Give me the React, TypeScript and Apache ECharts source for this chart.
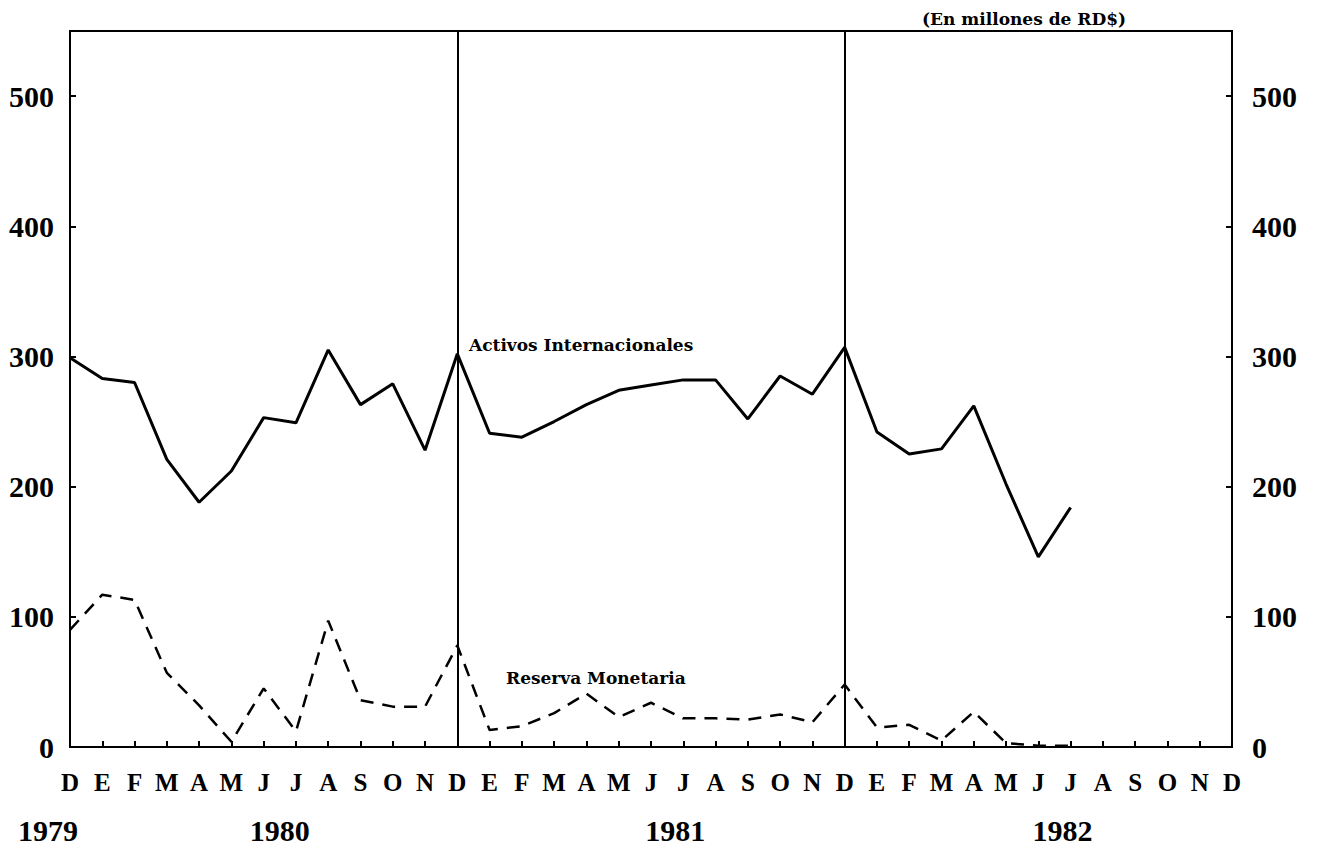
import React, { useEffect, useRef } from "react";
import * as echarts from "echarts";

const months: string[] = [
  "D",
  "E", "F", "M", "A", "M", "J", "J", "A", "S", "O", "N", "D",
  "E", "F", "M", "A", "M", "J", "J", "A", "S", "O", "N", "D",
  "E", "F", "M", "A", "M", "J", "J", "A", "S", "O", "N", "D",
];

const activosInternacionales: number[] = [
  299, 283, 280, 221, 188, 212, 253, 249, 305, 263, 279, 228, 302,
  241, 238, 250, 263, 274, 278, 282, 282, 252, 285, 271, 307,
  242, 225, 229, 262, 202, 146, 184,
];

const reservaMonetaria: number[] = [
  90, 117, 113, 57, 32, 4, 45, 12, 97, 36, 31, 31, 78,
  13, 16, 26, 41, 23, 34, 22, 22, 21, 25, 19, 48,
  15, 17, 5, 27, 3, 1, 1,
];

const dividerMonths: number[] = [12, 24];

const yearLabels: string[] = ["1979", "1980", "1981", "1982"];
const yearPositions: number[] = [0, 6.5, 18.75, 30.75];

const yTicks = { min: 0, max: 550, interval: 100 };

const FONT = "'Liberation Serif', 'DejaVu Serif', serif";
const NOTE_FONT = "'DejaVu Serif', 'Liberation Serif', serif";

export default function App() {
  const ref = useRef<HTMLDivElement>(null);

  useEffect(() => {
    if (!ref.current) return;
    const chart = echarts.init(ref.current, null, { renderer: "svg" });

    const yAxisCommon = {
      type: "value" as const,
      min: yTicks.min,
      max: yTicks.max,
      interval: yTicks.interval,
      splitLine: { show: false },
      axisLine: { show: true, lineStyle: { color: "#000", width: 2 } },
      axisTick: { show: true, inside: true, length: 6, lineStyle: { color: "#000", width: 2 } },
      axisLabel: {
        color: "#000",
        fontFamily: FONT,
        fontWeight: "bold" as const,
        fontSize: 30,
        showMaxLabel: false,
        formatter: (v: number) => (v % 100 === 0 ? String(v) : ""),
      },
    };

    chart.setOption({
      animation: false,
      backgroundColor: "#fff",
      grid: {
        left: 70,
        right: 85,
        top: 31,
        bottom: 99,
        show: true,
        borderColor: "#000",
        borderWidth: 2,
        backgroundColor: "transparent",
      },
      xAxis: [
        {
          type: "category",
          data: months,
          boundaryGap: false,
          axisLine: { show: true, lineStyle: { color: "#000", width: 2 } },
          axisTick: {
            show: true,
            inside: true,
            length: 6,
            interval: 0,
            lineStyle: { color: "#000", width: 2 },
          },
          axisLabel: {
            interval: 0,
            color: "#000",
            fontFamily: FONT,
            fontWeight: "bold",
            fontSize: 25,
            margin: 23,
          },
          splitLine: { show: false },
        },
        {
          type: "value",
          position: "bottom",
          offset: 48,
          min: 0,
          max: 36,
          interval: 0.25,
          axisLine: { show: false },
          axisTick: { show: false },
          splitLine: { show: false },
          axisLabel: {
            color: "#000",
            fontFamily: FONT,
            fontWeight: "bold",
            fontSize: 30,
            margin: 20,
            showMinLabel: true,
            formatter: (v: number) => {
              const i = yearPositions.findIndex((p) => Math.abs(p - v) < 1e-6);
              if (i < 0) return "";
              return i === 0 ? "{first|" + yearLabels[i] + "}" : yearLabels[i];
            },
            rich: {
              first: {
                fontFamily: FONT,
                fontWeight: "bold",
                fontSize: 30,
                color: "#000",
                padding: [0, 44, 0, 0],
              },
            },
          },
        },
      ],
      yAxis: [
        { ...yAxisCommon, position: "left", axisLabel: { ...yAxisCommon.axisLabel, margin: 16 } },
        { ...yAxisCommon, position: "right", axisLabel: { ...yAxisCommon.axisLabel, margin: 20 } },
      ],
      series: [
        {
          name: "Activos Internacionales",
          type: "line",
          data: activosInternacionales,
          xAxisIndex: 0,
          yAxisIndex: 0,
          symbol: "none",
          lineStyle: { color: "#000", width: 3, type: "solid" },
          markLine: {
            silent: true,
            symbol: "none",
            label: { show: false },
            lineStyle: { color: "#000", width: 2, type: "solid" },
            data: dividerMonths.map((m) => ({ xAxis: m })),
          },
        },
        {
          name: "Reserva Monetaria",
          type: "line",
          data: reservaMonetaria,
          xAxisIndex: 0,
          yAxisIndex: 0,
          symbol: "none",
          lineStyle: { color: "#000", width: 2.5, type: [13, 9] },
        },
      ],
      graphic: [
        {
          type: "text",
          left: 922,
          top: 10,
          style: {
            text: "(En millones de RD$)",
            fill: "#000",
            font: "bold 17px " + NOTE_FONT,
          },
        },
        {
          type: "text",
          left: 469,
          top: 336,
          style: {
            text: "Activos Internacionales",
            fill: "#000",
            font: "bold 17px " + NOTE_FONT,
          },
        },
        {
          type: "text",
          left: 506,
          top: 669,
          style: {
            text: "Reserva Monetaria",
            fill: "#000",
            font: "bold 17px " + NOTE_FONT,
          },
        },
      ],
    });

    return () => {
      chart.dispose();
    };
  }, []);

  return (
    <div
      ref={ref}
      style={{ position: "fixed", left: 0, top: 0, width: 1317, height: 846, background: "#fff" }}
    />
  );
}
